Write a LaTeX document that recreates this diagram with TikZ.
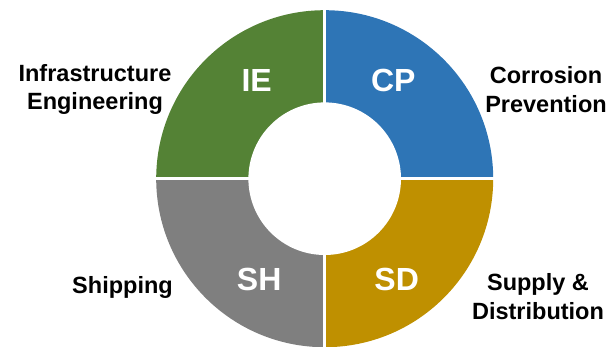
\documentclass[tikz,border=0pt]{standalone}
\usepackage{fontspec}
\setmainfont{Liberation Sans}
\definecolor{segGreen}{HTML}{548235}
\definecolor{segBlue}{HTML}{2E75B6}
\definecolor{segGold}{HTML}{BF9000}
\definecolor{segGray}{HTML}{7F7F7F}
\tikzset{
  inlabel/.style={text=white, font=\bfseries\fontsize{32}{38}\selectfont, inner sep=0pt, anchor=base},
  outlabel/.style={text=black, font=\bfseries\fontsize{23.5}{28.5}\selectfont, inner sep=0pt, align=center},
  gapline/.style={white, line width=2.7pt}
}
\begin{document}
\begin{tikzpicture}[x=1pt,y=1pt]
\useasboundingbox (0,0) rectangle (611,346);
\coordinate (c) at (324.7,167.3);
\def\Ro{168.5}
\def\Ri{76.3}
\fill[segBlue]  (c) -- ++(0:\Ro)   arc[start angle=0,   end angle=90,  radius=\Ro] -- cycle;
\fill[segGreen] (c) -- ++(90:\Ro)  arc[start angle=90,  end angle=180, radius=\Ro] -- cycle;
\fill[segGray]  (c) -- ++(180:\Ro) arc[start angle=180, end angle=270, radius=\Ro] -- cycle;
\fill[segGold]  (c) -- ++(270:\Ro) arc[start angle=270, end angle=360, radius=\Ro] -- cycle;
\draw[gapline] (c) ++(0,172) -- ++(0,-344);
\draw[gapline] (c) ++(-172,0) -- ++(344,0);
\fill[white] (c) circle[radius=\Ri];
\node[inlabel] (ie) at (256.7,254.3) {IE};
\node[inlabel] (cp) at (393.3,254.3) {CP};
\node[inlabel] (sh) at (259.2,56) {SH};
\node[inlabel] (sd) at (396.7,56) {SD};
\node[outlabel] (infra) at (95,256.7) {Infrastructure\\Engineering};
\node[outlabel] (corr) at (546,256.6) {Corrosion\\Prevention};
\node[outlabel, anchor=base] (ship) at (122.5,53) {Shipping};
\node[outlabel] (supp) at (538,49.6) {Supply \&\\Distribution};
\end{tikzpicture}
\end{document}
